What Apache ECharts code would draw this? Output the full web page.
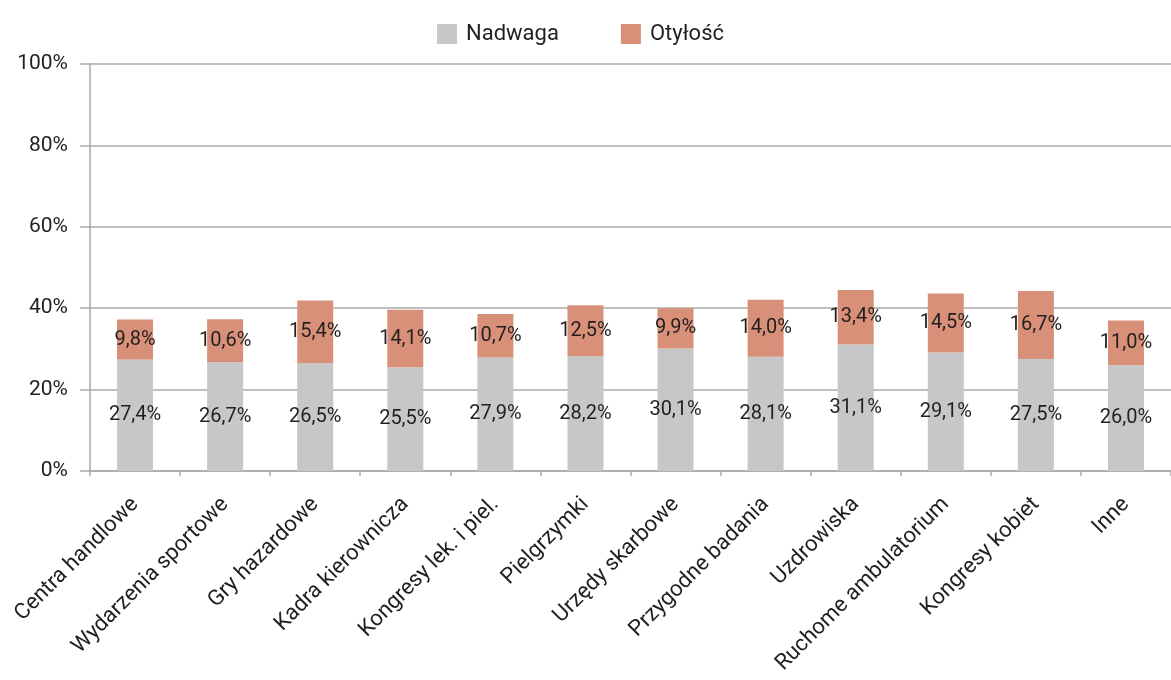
<!DOCTYPE html>
<html lang="pl">
<head>
<meta charset="utf-8">
<title>Nadwaga i otyłość</title>
<script src="https://cdn.jsdelivr.net/npm/echarts@6/dist/echarts.min.js"></script>
<style>
  html, body { margin: 0; padding: 0; background: #fff; }
  #panel { width: 1171px; height: 680px; }
</style>
</head>
<body>
<div id="panel"></div>
<script>
// kategorie
const categories = [
  'Centra handlowe', 'Wydarzenia sportowe', 'Gry hazardowe', 'Kadra kierownicza',
  'Kongresy lek. i piel.', 'Pielgrzymki', 'Urzędy skarbowe', 'Przygodne badania',
  'Uzdrowiska', 'Ruchome ambulatorium', 'Kongresy kobiet', 'Inne'
];
// wartości w %
const nadwaga = [27.4, 26.7, 26.5, 25.5, 27.9, 28.2, 30.1, 28.1, 31.1, 29.1, 27.5, 26.0];
const otylosc = [9.8, 10.6, 15.4, 14.1, 10.7, 12.5, 9.9, 14.0, 13.4, 14.5, 16.7, 11.0];
const yTicks = [0, 20, 40, 60, 80, 100];

const fontName = 'Roboto';
const textColor = '#231f20';
const fmt = (p) => p.value.toFixed(1).replace('.', ',') + '%';

const chart = echarts.init(document.getElementById('panel'));
chart.setOption({
  animation: false,
  textStyle: { fontFamily: fontName, color: textColor },
  legend: {
    top: 18,
    left: 432,
    itemWidth: 20,
    itemHeight: 20,
    itemGap: 62,
    icon: 'rect',
    textStyle: { fontSize: 22, color: textColor, fontFamily: fontName, padding: [0, 0, 0, 4] }
  },
  grid: { left: 90, right: -9, top: 64, bottom: 209, containLabel: false },
  xAxis: {
    type: 'category',
    data: categories,
    axisLine: { lineStyle: { color: '#aaa', width: 1.5 } },
    axisTick: { show: true, length: 5, lineStyle: { color: '#aaa', width: 1.5 } },
    axisLabel: {
      rotate: 45,
      margin: 30,
      fontSize: 22,
      color: textColor,
      fontFamily: fontName,
      interval: 0
    }
  },
  yAxis: {
    type: 'value',
    min: yTicks[0],
    max: yTicks[yTicks.length - 1],
    interval: 20,
    axisLine: { show: true, lineStyle: { color: '#aaa', width: 1.5 } },
    axisTick: { show: true, length: 10, lineStyle: { color: '#aaa', width: 1.5 } },
    splitLine: { lineStyle: { color: '#aaa', width: 1.5 } },
    axisLabel: {
      formatter: '{value}%',
      margin: 22,
      fontSize: 21,
      color: textColor,
      fontFamily: fontName
    }
  },
  series: [
    {
      name: 'Nadwaga',
      type: 'bar',
      stack: 'all',
      barWidth: 36,
      data: nadwaga,
      itemStyle: { color: '#c6c7c9' },
      label: { show: true, position: 'inside', formatter: fmt, fontSize: 20, color: textColor, fontFamily: fontName }
    },
    {
      name: 'Otyłość',
      type: 'bar',
      stack: 'all',
      barWidth: 36,
      data: otylosc,
      itemStyle: { color: '#d99078' },
      label: { show: true, position: 'inside', formatter: fmt, fontSize: 20, color: textColor, fontFamily: fontName }
    }
  ]
});
</script>
</body>
</html>
